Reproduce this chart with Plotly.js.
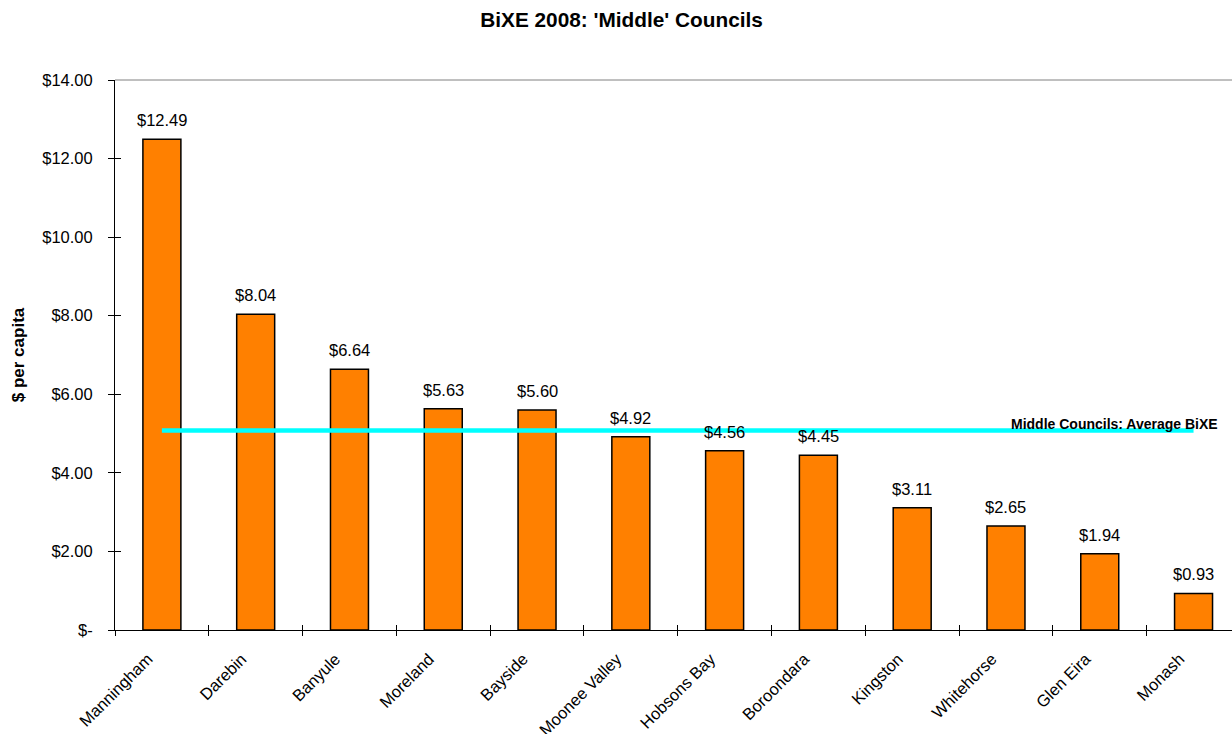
<!DOCTYPE html>
<html>
<head>
<meta charset="utf-8">
<script src="https://cdn.plot.ly/plotly-3.0.1.min.js"></script>
<style>html,body{margin:0;padding:0;background:#fff}#chart{width:1232px;height:734px}</style>
</head>
<body>
<div id="chart"></div>
<script>
const councils = ["Manningham","Darebin","Banyule","Moreland","Bayside","Moonee Valley","Hobsons Bay","Boroondara","Kingston","Whitehorse","Glen Eira","Monash"];
const bixe = [12.49, 8.04, 6.64, 5.63, 5.60, 4.92, 4.56, 4.45, 3.11, 2.65, 1.94, 0.93];
const averageBixe = 5.08;
const yTickVals = [0, 2, 4, 6, 8, 10, 12, 14];
const yTickText = ["$-", "$2.00", "$4.00", "$6.00", "$8.00", "$10.00", "$12.00", "$14.00"];

const font = "Liberation Sans, Arial, sans-serif";
const xRange = [-0.5, 11.41];
const yRange = [0, 14];

const bars = {
  type: "bar",
  x: councils,
  y: bixe,
  width: 0.405,
  marker: {color: "#FF8000", line: {color: "#000", width: 1.5}},
  hoverinfo: "x+y"
};

const avgLine = {
  type: "scatter",
  mode: "lines",
  x: [councils[0], councils[councils.length - 1]],
  y: [averageBixe, averageBixe],
  line: {color: "#00FFFF", width: 4.5},
  hoverinfo: "skip"
};

// invisible trace driving the overlay axes (inner half of crossing ticks)
const ghost = {
  type: "scatter",
  mode: "markers",
  x: councils,
  y: bixe,
  xaxis: "x2",
  yaxis: "y2",
  marker: {opacity: 0},
  hoverinfo: "skip"
};

const valueLabels = councils.map((c, i) => ({
  xref: "x", yref: "y", x: c, y: bixe[i],
  xanchor: "center", yanchor: "bottom", yshift: 8,
  text: "$" + bixe[i].toFixed(2),
  showarrow: false,
  font: {family: font, size: 16.5, color: "#000"}
}));

const layout = {
  width: 1232,
  height: 734,
  margin: {l: 115, r: 0, t: 80, b: 104},
  paper_bgcolor: "#fff",
  plot_bgcolor: "#fff",
  showlegend: false,
  title: {
    text: "BiXE 2008: 'Middle' Councils",
    font: {family: font, size: 20.8, color: "#000", weight: "bold"},
    x: 0.5045, xanchor: "center", yref: "container", y: 0.973, yanchor: "middle"
  },
  xaxis: {
    type: "category",
    range: xRange,
    showgrid: false,
    zeroline: false,
    showline: true,
    linecolor: "#000",
    linewidth: 1,
    ticks: "outside",
    ticklen: 5,
    tickcolor: "#000",
    tickson: "boundaries",
    tickangle: -45,
    ticklabelstandoff: 12,
    ticklabelshift: -14,
    tickfont: {family: font, size: 16.5, color: "#000"},
    fixedrange: true
  },
  xaxis2: {
    type: "category",
    overlaying: "x",
    range: xRange,
    showgrid: false,
    zeroline: false,
    showline: false,
    ticks: "inside",
    ticklen: 5,
    tickcolor: "#000",
    tickson: "boundaries",
    showticklabels: false,
    side: "bottom",
    fixedrange: true
  },
  yaxis: {
    range: yRange,
    tickvals: yTickVals,
    ticktext: yTickText,
    showgrid: false,
    zeroline: false,
    showline: true,
    linecolor: "#000",
    linewidth: 1,
    ticks: "outside",
    ticklen: 6,
    tickcolor: "#000",
    ticklabelstandoff: 12,
    tickfont: {family: font, size: 16.5, color: "#000"},
    title: {text: "$ per capita", font: {family: font, size: 17, color: "#000", weight: "bold"}, standoff: 13},
    fixedrange: true
  },
  yaxis2: {
    overlaying: "y",
    range: yRange,
    tickvals: yTickVals,
    showgrid: false,
    zeroline: false,
    showline: false,
    ticks: "inside",
    ticklen: 6,
    tickcolor: "#000",
    showticklabels: false,
    side: "left",
    fixedrange: true
  },
  shapes: [
    {type: "line", xref: "paper", yref: "paper", x0: 0, x1: 1, y0: 1, y1: 1, line: {color: "#808080", width: 1}}
  ],
  annotations: valueLabels.concat([
    {
      xref: "paper", yref: "y", x: 0.9895, y: averageBixe, xanchor: "right", yanchor: "bottom",
      yshift: -4,
      text: "<b>Middle Councils: Average BiXE</b>",
      showarrow: false,
      font: {family: font, size: 14, color: "#000"}
    }
  ])
};

Plotly.newPlot("chart", [bars, avgLine, ghost], layout, {displayModeBar: false, staticPlot: true});
</script>
</body>
</html>
